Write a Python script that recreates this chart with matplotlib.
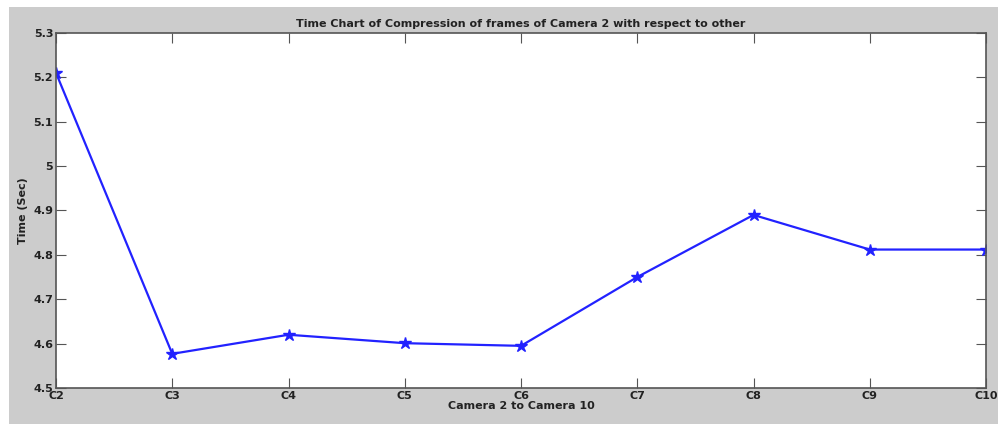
import matplotlib
matplotlib.use("Agg")
import matplotlib.pyplot as plt
from matplotlib.patches import Rectangle

categories = ["C2", "C3", "C4", "C5", "C6", "C7", "C8", "C9", "C10"]
times = [5.21, 4.577, 4.62, 4.601, 4.595, 4.75, 4.89, 4.812, 4.812]
yticks = [4.5, 4.6, 4.7, 4.8, 4.9, 5.0, 5.1, 5.2, 5.3]
ytick_labels = ["4.5", "4.6", "4.7", "4.8", "4.9", "5", "5.1", "5.2", "5.3"]

W, H = 998, 424
fig = plt.figure(figsize=(W / 100, H / 100), dpi=100, facecolor="white")
fig.patches.append(Rectangle((9 / W, 0), 1 - 9 / W, 1 - 7 / H, transform=fig.transFigure,
                             facecolor="#cccccc", edgecolor="none", zorder=-10))

ax = fig.add_axes([56 / W, 1 - 388 / H, (986 - 56) / W, (388 - 33) / H])
ax.set_facecolor("white")
x = list(range(len(categories)))
ax.plot(x, times, color="#2222ff", lw=1.6, marker="*", markersize=9)
ax.set_xlim(0, len(categories) - 1)
ax.set_ylim(4.5, 5.3)
ax.set_xticks(x)
ax.set_xticklabels(categories, fontsize=8, fontweight="bold", color="#222222")
ax.set_yticks(yticks)
ax.set_yticklabels(ytick_labels, fontsize=8, fontweight="bold", color="#222222")
ax.tick_params(direction="in", top=True, right=True, length=7, color="#555555", pad=2)
for s in ax.spines.values():
    s.set_color("#555555")
    s.set_linewidth(1.2)
ax.set_title("Time Chart of Compression of frames of Camera 2 with respect to other",
             fontsize=8, fontweight="bold", color="#222222", pad=4)
ax.set_xlabel("Camera 2 to Camera 10", fontsize=8, fontweight="bold", color="#222222", labelpad=0)
ax.set_ylabel("Time (Sec)", fontsize=8, fontweight="bold", color="#222222", labelpad=4)

fig.savefig("out.png", dpi=100, facecolor="white")
